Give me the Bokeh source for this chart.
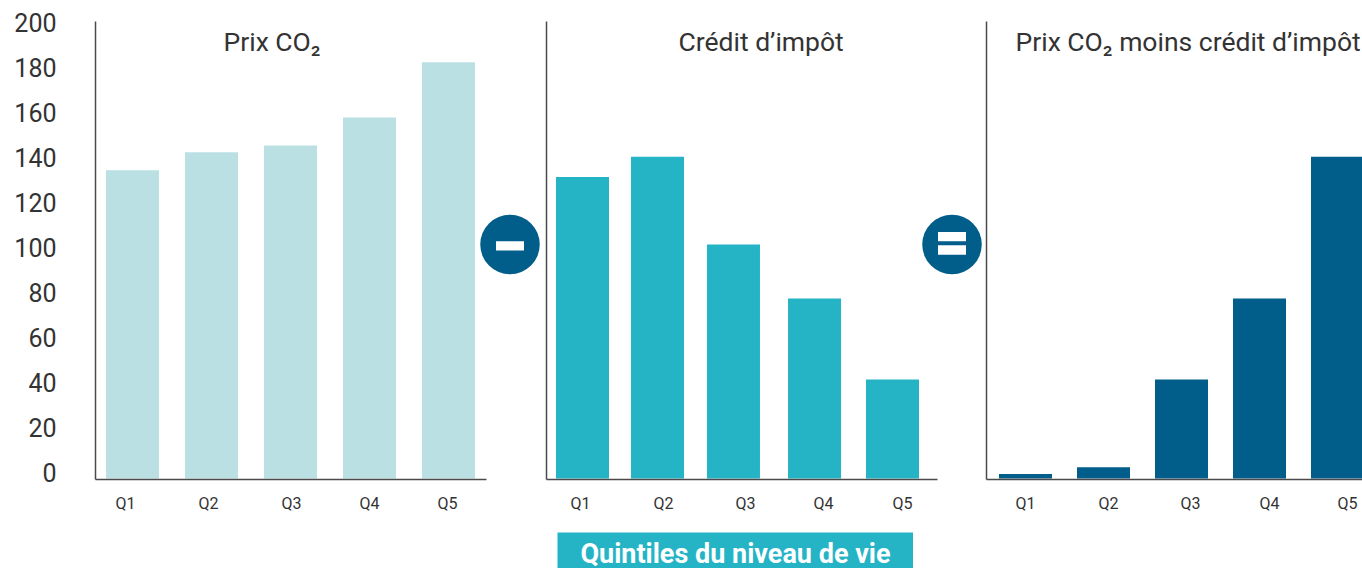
from bokeh.plotting import figure
from bokeh.layouts import row, column
from bokeh.models import Range1d, LinearAxis, FixedTicker, Label, Spacer
from bokeh.embed import file_html
from bokeh.resources import INLINE

quintiles = ["Q1", "Q2", "Q3", "Q4", "Q5"]
prix_co2 = [137, 145, 148, 160.5, 185]
credit_impot = [134, 143, 104, 80, 44]
prix_moins_credit = [2, 5, 44, 80, 143]
y_ticks = list(range(0, 201, 20))

FONT = "Roboto"
TXT = "#333333"
AX = "#4a4a4a"
LIGHT, MID, DARK = "#BAE0E3", "#24B4C6", "#015D8A"

PANEL_H = 532
FRAME_TOP, FRAME_BOTTOM = 21, 479
PX_PER_UNIT = 2.25
BASE = 478  # pixel row of value 0
LABEL_SHIFT = 6  # the reference sets its y labels a little above their true level


def panel(canvas_left, frame_left, frame_right, first_center, pitch, slots, tick_px,
          values, color, title, title_px, axis_end_px, left_axis=False):
    to_slot = lambda px: (px - first_center) / pitch
    p = figure(
        width=frame_right - canvas_left, height=PANEL_H,
        x_range=Range1d(to_slot(frame_left), to_slot(frame_right)),
        y_range=Range1d((BASE - FRAME_BOTTOM) / PX_PER_UNIT, (BASE - FRAME_TOP) / PX_PER_UNIT),
        x_axis_location=None, y_axis_location=None,
        toolbar_location=None, output_backend="svg",
        min_border_left=frame_left - canvas_left, min_border_right=0,
        min_border_top=FRAME_TOP, min_border_bottom=PANEL_H - FRAME_BOTTOM,
        outline_line_color=None, background_fill_color="white",
    )
    p.grid.visible = False
    p.vbar(x=slots, top=values, width=53 / pitch, bottom=0, color=color, line_width=0)

    # x axis, labels at their own positions
    ticks = [to_slot(v) for v in tick_px]
    xa = LinearAxis(
        ticker=FixedTicker(ticks=ticks),
        major_label_overrides=dict(zip(ticks, quintiles)),
        bounds=(to_slot(frame_left), to_slot(axis_end_px)),
        major_tick_line_color=None, minor_tick_line_color=None,
        axis_line_color=AX, axis_line_width=1.5,
        major_label_text_font=FONT, major_label_text_font_size="16px",
        major_label_text_color=TXT, major_label_standoff=8,
    )
    p.add_layout(xa, "below")

    # y axis line, optionally with labels
    if left_axis:
        p.extra_y_ranges["labels"] = Range1d(
            (BASE - LABEL_SHIFT - FRAME_BOTTOM) / PX_PER_UNIT,
            (BASE - LABEL_SHIFT - FRAME_TOP) / PX_PER_UNIT)
        ya = LinearAxis(
            y_range_name="labels", ticker=FixedTicker(ticks=y_ticks),
            major_tick_line_color=None, minor_tick_line_color=None,
            axis_line_color=AX, axis_line_width=1.5,
            major_label_text_font=FONT, major_label_text_font_size="25px",
            major_label_text_color=TXT, major_label_standoff=33,
        )
    else:
        ya = LinearAxis(
            ticker=FixedTicker(ticks=[]),
            major_tick_line_color=None, minor_tick_line_color=None,
            major_label_text_font_size="0px",
            axis_line_color=AX, axis_line_width=1.5,
        )
    p.add_layout(ya, "left")

    p.add_layout(Label(
        x=title_px - frame_left, y=FRAME_BOTTOM - 41, x_units="screen", y_units="screen",
        text=title, text_font=FONT, text_font_size="26.5px", text_color=TXT,
        text_align="left", text_baseline="middle",
    ))
    return p, to_slot


def badge(p, to_slot, cx, cy, bars):
    y_of = lambda px: (BASE - px) / PX_PER_UNIT
    p.scatter(x=[to_slot(cx)], y=[y_of(cy)], size=59.5, marker="circle", color=DARK, line_width=0)
    for by in bars:
        p.rect(x=[to_slot(cx)], y=[y_of(by)], width=28, height=9.3,
               width_units="screen", height_units="screen", color="white", line_width=0)


p1, s1 = panel(0, 95, 541, 132, 79, [0, 1, 2, 3, 4], [125, 208, 291, 369, 447],
               prix_co2, LIGHT, "Prix CO₂", 223, 486, left_axis=True)
badge(p1, s1, 509.5, 244, [245.3])

p2, s2 = panel(541, 546, 983, 582, 77.5, [0, 0.968, 1.948, 2.994, 4], [580, 663, 745, 823, 902],
               credit_impot, MID, "Crédit d’impôt", 678, 937)
badge(p2, s2, 951.5, 244, [236.2, 249.5])

p3, s3 = panel(983, 986, 1362, 1025, 78, [0, 1, 2, 3, 4], [1025, 1108, 1190, 1269, 1347],
               prix_moins_credit, DARK, "Prix CO₂ moins crédit d’impôt", 1015, 1362)

banner = figure(width=356, height=36, x_range=Range1d(0, 1), y_range=Range1d(0, 1),
                x_axis_location=None, y_axis_location=None, toolbar_location=None,
                output_backend="svg", min_border=0, outline_line_color=None,
                background_fill_color=MID, border_fill_color=MID)
banner.grid.visible = False
banner.add_layout(Label(
    x=178, y=15, x_units="screen", y_units="screen",
    text="Quintiles du niveau de vie", text_font=FONT, text_font_size="27px",
    text_font_style="bold", text_color="white", text_align="center", text_baseline="middle",
))

layout = column(row(p1, p2, p3), row(Spacer(width=557, height=36), banner))
open("out.html", "w").write(file_html(layout, INLINE))
